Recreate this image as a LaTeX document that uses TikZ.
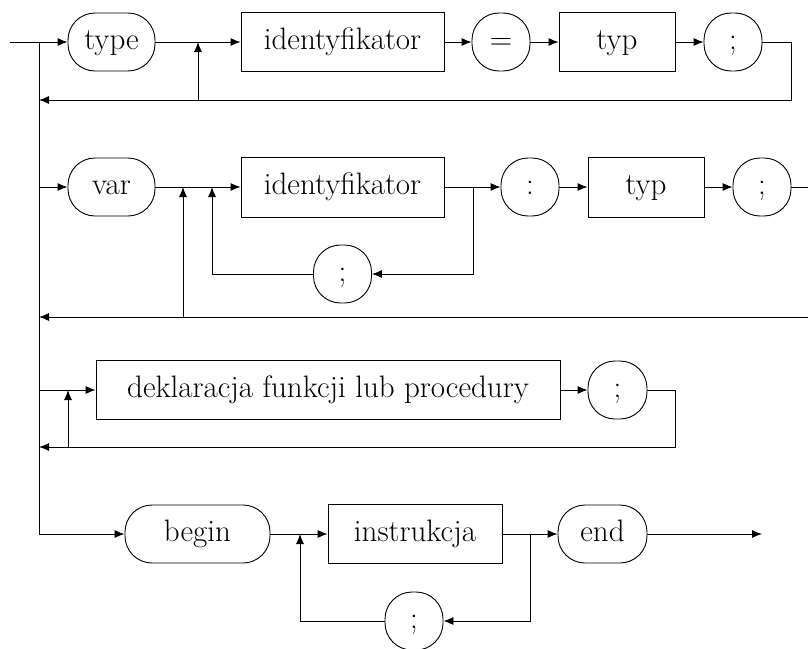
\documentclass[tikz,border=0pt]{standalone}
\usetikzlibrary{arrows.meta}
\begin{document}
\begin{tikzpicture}[x=1pt,y=-1pt,
  every node/.style={font=\fontsize{31}{37}\selectfont, text height=21.7pt, text depth=7.7pt, inner sep=0pt},
  term/.style={draw, line width=0.9pt, rounded corners=27pt, minimum height=58pt},
  nonterm/.style={draw, line width=0.9pt, minimum height=59pt},
  line/.style={line width=0.9pt},
  conn/.style={line width=0.9pt, -{Latex[length=10pt,width=8pt]}}]
\useasboundingbox (0,0) rectangle (808,648);

% --- row 1: type
\coordinate (in) at (10,42);
\coordinate (m1) at (39,42);
\node[term, minimum width=87pt]   (type) at (111.5,42) {type};
\node[nonterm, minimum width=203pt] (id1) at (342.5,42) {identyfikator};
\node[term, minimum width=58pt]   (eq)   at (501,42) {=};
\node[nonterm, minimum width=116pt] (typ1) at (617,42) {typ};
\node[term, minimum width=58pt]   (s1)   at (733,42) {;};
\coordinate (r1) at (791,100);
\coordinate (b1) at (39,100);
\coordinate (j1) at (198,42);

\draw[conn] (in) -- (type.west);
\draw[conn] (type.east) -- (id1.west);
\draw[conn] (id1.east) -- (eq.west);
\draw[conn] (eq.east) -- (typ1.west);
\draw[conn] (typ1.east) -- (s1.west);
\draw[conn] (s1.east) -| (r1) -- (b1);
\draw[conn] (j1 |- b1) -- (j1);

% --- row 2: var
\coordinate (m2) at (39,187);
\node[term, minimum width=87pt]   (var)  at (111.5,187) {var};
\node[nonterm, minimum width=203pt, minimum height=60pt] (id2) at (342.5,187) {identyfikator};
\node[term, minimum width=58pt]   (col)  at (530,187) {:};
\node[nonterm, minimum width=116pt, minimum height=60pt] (typ2) at (646,187) {typ};
\node[term, minimum width=58pt]   (s2)   at (762,187) {;};
\node[term, minimum width=58pt]   (s2b)  at (342.5,274) {;};
\coordinate (e2) at (808,187);
\coordinate (e2b) at (808,317);
\coordinate (b2) at (39,317);
\coordinate (j2a) at (183,187);
\coordinate (j2b) at (212,187);
\coordinate (j2c) at (473,187);

\draw[conn] (m2) -- (var.west);
\draw[conn] (var.east) -- (id2.west);
\draw[conn] (id2.east) -- (col.west);
\draw[conn] (col.east) -- (typ2.west);
\draw[conn] (typ2.east) -- (s2.west);
\draw[line] (s2.east) -- (e2);
\draw[conn] (e2b) -- (b2);
\draw[conn] (j2a |- b2) -- (j2a);
\draw[conn] (s2b.west) -| (j2b);
\draw[conn] (j2c) |- (s2b.east);

% --- row 3: function/procedure declarations
\coordinate (m3) at (39,390);
\node[nonterm, minimum width=464pt] (decl) at (328,390) {deklaracja funkcji lub procedury};
\node[term, minimum width=59pt] (s3) at (617.5,390) {;};
\coordinate (r3) at (675,447);
\coordinate (b3) at (39,447);
\coordinate (j3) at (68,390);

\draw[conn] (m3) -- (decl.west);
\draw[conn] (decl.east) -- (s3.west);
\draw[conn] (s3.east) -| (r3) -- (b3);
\draw[conn] (j3 |- b3) -- (j3);

% --- row 4: begin ... end
\coordinate (m4) at (39,534);
\node[term, minimum width=145pt] (begin) at (197.5,534) {begin};
\node[nonterm, minimum width=174pt] (instr) at (415,534) {instrukcja};
\node[term, minimum width=58pt] (s4) at (414,621) {;};
\node[term, minimum width=89pt] (endn) at (602.5,534) {end};
\coordinate (out) at (762,534);
\coordinate (j4a) at (300,534);
\coordinate (j4b) at (530,534);

\draw[line] (m1) -- (m4);
\draw[conn] (m4) -- (begin.west);
\draw[conn] (begin.east) -- (instr.west);
\draw[conn] (instr.east) -- (endn.west);
\draw[conn] (endn.east) -- (out);
\draw[conn] (s4.west) -| (j4a);
\draw[conn] (j4b) |- (s4.east);
\end{tikzpicture}
\end{document}
